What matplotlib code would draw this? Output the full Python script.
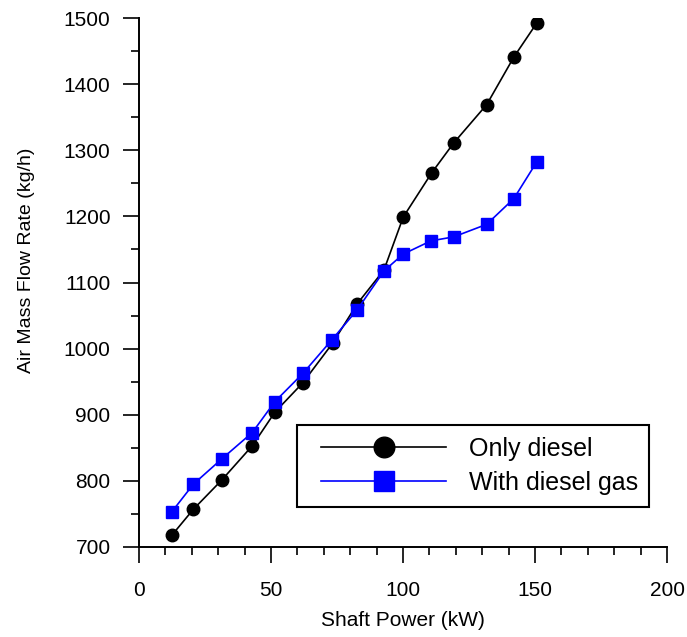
import matplotlib.pyplot as plt
from matplotlib.patches import Rectangle
from matplotlib.ticker import MultipleLocator

plt.rcParams['font.family'] = ['Liberation Sans', 'DejaVu Sans']

# Potencia en el eje (kW)
power_diesel = [12.5, 20.6, 31.3, 42.9, 51.5, 62.0, 73.3, 82.7, 92.8, 100.1, 110.9, 119.2, 131.7, 142.0, 150.6]
air_diesel = [718, 757, 801, 853, 904, 948, 1008, 1068, 1119, 1199, 1266, 1311, 1369, 1441, 1492]

power_gas = [12.4, 20.6, 31.3, 42.9, 51.5, 62.2, 73.0, 82.7, 92.9, 100.1, 110.6, 119.2, 131.7, 142.0, 150.6]
air_gas = [753, 795, 833, 873, 920, 963, 1013, 1059, 1118, 1143, 1163, 1169, 1188, 1227, 1282]

fig = plt.figure(figsize=(6.87, 6.37), dpi=100)
ax = fig.add_axes([0.2023, 0.1413, 0.7686, 0.8304])

ax.plot(power_diesel, air_diesel, color='black', lw=1.2, marker='o', ms=9,
        label='Only diesel')
ax.plot(power_gas, air_gas, color='#0000ff', lw=1.2, marker='s', ms=8.3,
        label='With diesel gas')

ax.set_xlim(0, 200)
ax.set_ylim(700, 1500)
ax.xaxis.set_major_locator(MultipleLocator(50))
ax.xaxis.set_minor_locator(MultipleLocator(10))
ax.yaxis.set_major_locator(MultipleLocator(100))
ax.yaxis.set_minor_locator(MultipleLocator(50))
ax.tick_params(which='major', direction='out', length=11.5, width=1.2, labelsize=15, pad=9)
ax.tick_params(which='minor', direction='out', length=5.5, width=1.2)
ax.tick_params(axis='x', which='major', pad=13)
ax.spines['top'].set_visible(False)
ax.spines['right'].set_visible(False)
ax.spines['left'].set_linewidth(1.4)
ax.spines['bottom'].set_linewidth(1.4)

ax.set_xlabel('Shaft Power (kW)', fontsize=15, labelpad=8)
ax.set_ylabel('Air Mass Flow Rate (kg/h)', fontsize=14)
ax.yaxis.set_label_coords(-0.197, 0.5425)

# marco de la leyenda
ax.add_patch(Rectangle((0.299, 0.0756), 0.667, 0.155, transform=ax.transAxes,
                       facecolor='white', edgecolor='black', lw=1.5, zorder=4))
leg = ax.legend(loc='center right', bbox_to_anchor=(0.966, 0.1531),
                fontsize=18, handlelength=5.0, handletextpad=0.9, markerscale=1.65,
                labelspacing=0.4, borderpad=0.45, borderaxespad=0, frameon=False)
leg.set_zorder(5)

fig.savefig('out.png', dpi=100)
